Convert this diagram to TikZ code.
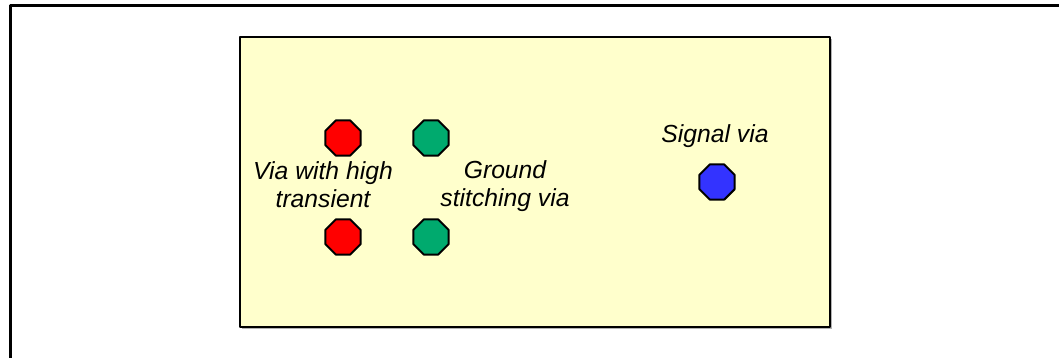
\documentclass[tikz,border=0pt]{standalone}
\usepackage{fontspec}
\setmainfont{Liberation Sans}
\usetikzlibrary{shapes.geometric}

\definecolor{boardfill}{RGB}{255,255,204}
\definecolor{viared}{RGB}{255,0,0}
\definecolor{viagreen}{RGB}{0,170,110}
\definecolor{viablue}{RGB}{51,51,255}

\begin{document}
\begin{tikzpicture}[x=0.5pt, y=-0.5pt, line join=round,
		font=\fontsize{12.35}{14}\selectfont\itshape,
		via/.style={regular polygon, regular polygon sides=8, draw=black, line width=1pt, inner sep=0pt, minimum size=19pt},
		tag/.style={align=center, inner sep=0pt, anchor=base}]
	\clip (0,0) rectangle (1059,358);
	\draw[line width=1.5pt] (10.5,6) rectangle (1080,380);

	% board and its shadow
	\fill[black!30] (242,39) rectangle (832,329);
	\draw[fill=boardfill, line width=1.25pt] (240,37) rectangle (830,327);

	\path
	(343,138) coordinate (R1)
	(343,237) coordinate (R2)
	(431,138) coordinate (G1)
	(431,237) coordinate (G2)
	(717,182) coordinate (S)
	;

	\foreach \p/\c in {R1/viared,R2/viared,G1/viagreen,G2/viagreen,S/viablue}
	\node[via, fill=\c] (v\p) at (\p) {};

	\node[tag] (tHigh) at (323,207) {Via with high\\transient};
	\node[tag] (tGnd) at (505,206) {Ground\\stitching via};
	\node[tag] (tSig) at (715,142) {Signal via};
\end{tikzpicture}
\end{document}
